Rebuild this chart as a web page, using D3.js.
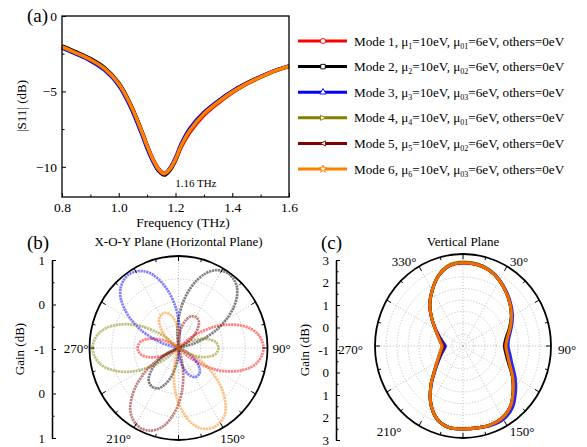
<!DOCTYPE html>
<html><head><meta charset="utf-8">
<script src="https://cdn.jsdelivr.net/npm/d3@7"></script>
<style>
body{margin:0;background:#fff}
svg{display:block}
text{font-family:"Liberation Serif","Times New Roman",serif;fill:#000}
</style>
</head><body>
<svg id="chart" width="587" height="447"></svg>
<script>
// ---------------- DATA ----------------
const modeNames = ["Mode 1","Mode 2","Mode 3","Mode 4","Mode 5","Mode 6"];
const muSub = ["1","2","3","4","5","6"];
const mu0Sub = ["01","02","03","01","02","03"];
const modeColors = ["#ff0000","#000000","#0000ff","#808000","#800000","#ff8000"];
const modeSymbols = ["circle","square","triangle","triRight","triLeft","star"];

// (a) |S11| vs frequency
const freq = [0.80,0.85,0.90,0.95,1.00,1.04,1.08,1.10,1.12,1.14,1.16,1.18,1.20,1.22,1.25,1.30,1.35,1.40,1.45,1.50,1.55,1.60];
const s11Mode1 = [-2.08,-2.48,-2.92,-3.52,-4.50,-5.80,-7.55,-8.55,-9.45,-10.10,-10.42,-10.20,-9.60,-8.72,-7.74,-6.60,-5.79,-5.10,-4.53,-4.07,-3.66,-3.35];
const s11Mode2 = [-1.98,-2.38,-2.82,-3.42,-4.42,-5.76,-7.58,-8.62,-9.55,-10.25,-10.55,-10.25,-9.58,-8.62,-7.58,-6.45,-5.66,-5.00,-4.46,-4.02,-3.62,-3.31];
const s11Mode3 = [-2.13,-2.53,-2.98,-3.60,-4.62,-6.00,-7.80,-8.80,-9.65,-10.26,-10.46,-10.08,-9.38,-8.45,-7.45,-6.38,-5.62,-4.97,-4.45,-4.01,-3.62,-3.32];
const s11Mode4 = [-2.06,-2.46,-2.90,-3.50,-4.50,-5.83,-7.62,-8.62,-9.50,-10.16,-10.46,-10.16,-9.52,-8.62,-7.62,-6.50,-5.72,-5.05,-4.50,-4.05,-3.65,-3.34];
const s11Mode5 = [-2.04,-2.44,-2.88,-3.48,-4.48,-5.81,-7.59,-8.60,-9.50,-10.18,-10.48,-10.18,-9.52,-8.61,-7.60,-6.48,-5.70,-5.03,-4.48,-4.03,-3.63,-3.32];
const s11Mode6 = [-2.05,-2.45,-2.89,-3.49,-4.49,-5.82,-7.60,-8.60,-9.49,-10.15,-10.45,-10.15,-9.50,-8.60,-7.60,-6.49,-5.71,-5.04,-4.49,-4.04,-3.64,-3.33];
const xTicksA = [0.8,1.0,1.2,1.4,1.6];
const yTicksA = [0,-5,-10];

// (b) horizontal plane gain (dB), angles 0..355 step 5 (values below -1 dB sit at the centre)
const anglesH = [0,5,10,15,20,25,30,35,40,45,50,55,60,65,70,75,80,85,90,95,100,105,110,115,120,125,130,135,140,145,150,155,160,165,170,175,180,185,190,195,200,205,210,215,220,225,230,235,240,245,250,255,260,265,270,275,280,285,290,295,300,305,310,315,320,325,330,335,340,345,350,355];
const gainHMode1 = [-1,-1,-1,-1,-1,-1,-1,-1,-1, -1,-0.69,-0.39,-0.08,0.20,0.45,0.66,0.80,0.88,0.91,0.88,0.80,0.66,0.45,0.20,-0.08,-0.39,-0.69,-1, -1,-1,-1,-1,-1,-1,-1,-1,-1,-1,-1,-1,-1,-1,-1,-1,-1,-1, -1,-0.93,-0.77,-0.59,-0.41,-0.26,-0.15,-0.10,-0.08,-0.10,-0.15,-0.26,-0.41,-0.59,-0.77,-0.93,-1, -1,-1,-1,-1,-1,-1,-1,-1,-1];
const gainHMode2 = [-0.37,-0.05,0.24,0.50,0.71,0.86,0.94,0.97,0.94,0.86,0.71,0.50,0.24,-0.05,-0.37,-0.68,-1, -1,-1,-1,-1,-1,-1,-1,-1,-1,-1,-1,-1,-1,-1,-1,-1,-1,-1, -1,-0.92,-0.74,-0.54,-0.34,-0.18,-0.05,0.01,0.03,0.01,-0.05,-0.18,-0.34,-0.54,-0.74,-0.92,-1, -1,-1,-1,-1,-1,-1,-1,-1,-1,-1,-1,-1,-1,-1,-1,-1,-1,-1, -1,-0.68];
const gainHMode3 = [-0.38,-0.69,-1, -1,-1,-1,-1,-1,-1,-1,-1,-1,-1,-1,-1,-1,-1,-1,-1,-1,-1, -1,-0.94,-0.81,-0.67,-0.53,-0.41,-0.32,-0.27,-0.26,-0.27,-0.32,-0.41,-0.53,-0.67,-0.81,-0.94,-1, -1,-1,-1,-1,-1,-1,-1,-1,-1,-1,-1,-1,-1,-1,-1,-1,-1,-1, -1,-0.69,-0.38,-0.06,0.23,0.48,0.70,0.84,0.92,0.95,0.92,0.84,0.70,0.48,0.23,-0.06];
const gainHMode4 = [-1,-1,-1,-1,-1,-1,-1,-1,-1,-1, -1,-0.93,-0.77,-0.59,-0.42,-0.28,-0.17,-0.12,-0.10,-0.12,-0.17,-0.28,-0.42,-0.59,-0.77,-0.93,-1, -1,-1,-1,-1,-1,-1,-1,-1,-1,-1,-1,-1,-1,-1,-1,-1,-1,-1, -1,-0.69,-0.38,-0.07,0.22,0.47,0.68,0.82,0.90,0.93,0.90,0.82,0.68,0.47,0.22,-0.07,-0.38,-0.69,-1, -1,-1,-1,-1,-1,-1,-1,-1];
const gainHMode5 = [-0.80,-0.65,-0.50,-0.38,-0.28,-0.24,-0.22,-0.24,-0.28,-0.38,-0.50,-0.65,-0.80,-0.94,-1, -1,-1,-1,-1,-1,-1,-1,-1,-1,-1,-1,-1,-1,-1,-1,-1,-1, -1,-0.69,-0.38,-0.07,0.22,0.47,0.69,0.83,0.91,0.94,0.91,0.83,0.69,0.47,0.22,-0.07,-0.38,-0.69,-1, -1,-1,-1,-1,-1,-1,-1,-1,-1,-1,-1,-1,-1,-1,-1,-1,-1,-1,-1, -1,-0.94];
const gainHMode6 = [-0.63,-0.79,-0.93,-1, -1,-1,-1,-1,-1,-1,-1,-1,-1,-1,-1,-1,-1,-1,-1,-1,-1,-1, -1,-0.70,-0.39,-0.09,0.20,0.44,0.65,0.80,0.87,0.90,0.87,0.80,0.65,0.44,0.20,-0.09,-0.39,-0.70,-1, -1,-1,-1,-1,-1,-1,-1,-1,-1,-1,-1,-1,-1,-1,-1,-1,-1,-1, -1,-0.93,-0.79,-0.63,-0.47,-0.34,-0.24,-0.19,-0.17,-0.19,-0.24,-0.34,-0.47];
const gainTickLabelsB = ["1","0","-1","0","1"];

// (c) vertical plane gain (dB), angles 0..350 step 10
const anglesV = [0,10,20,30,40,50,60,70,80,90,100,110,120,130,140,150,160,170,180,190,200,210,220,230,240,250,260,270,280,290,300,310,320,330,340,350];
const gainVMode1 = [2.62,2.60,2.50,2.30,2.05,1.80,1.55,1.26,1.01,0.91,1.01,1.22,1.60,1.98,2.38,2.60,2.65,2.62,2.60,2.60,2.40,1.92,1.28,0.70,0.35,0.15,0.02,-0.05,0.05,0.20,0.45,0.85,1.35,1.80,2.25,2.55];
const gainVMode2 = [2.62,2.60,2.50,2.30,2.05,1.80,1.53,1.24,0.98,0.88,0.98,1.20,1.58,1.98,2.38,2.60,2.65,2.62,2.60,2.60,2.40,1.92,1.28,0.70,0.33,0.10,-0.05,-0.15,-0.02,0.18,0.45,0.85,1.35,1.80,2.25,2.55];
const gainVMode3 = [2.62,2.62,2.52,2.32,2.08,1.84,1.60,1.34,1.12,1.05,1.17,1.38,1.74,2.12,2.50,2.68,2.68,2.62,2.60,2.60,2.40,1.92,1.26,0.66,0.28,0.05,-0.12,-0.20,-0.08,0.12,0.42,0.85,1.35,1.80,2.25,2.55];
const gainVMode4 = [2.65,2.63,2.52,2.30,2.05,1.80,1.55,1.28,1.05,0.95,1.05,1.25,1.60,1.98,2.38,2.60,2.65,2.62,2.60,2.60,2.40,1.92,1.28,0.70,0.35,0.15,0.02,-0.05,0.05,0.20,0.45,0.85,1.35,1.80,2.27,2.58];
const gainVMode5 = [2.62,2.60,2.50,2.30,2.05,1.80,1.55,1.28,1.05,0.95,1.05,1.25,1.60,1.98,2.38,2.60,2.65,2.62,2.60,2.60,2.40,1.92,1.28,0.68,0.32,0.10,-0.04,-0.12,0.00,0.18,0.45,0.85,1.35,1.80,2.25,2.55];
const gainVMode6 = [2.62,2.60,2.50,2.30,2.05,1.80,1.55,1.28,1.05,0.95,1.05,1.25,1.60,1.98,2.38,2.60,2.65,2.62,2.60,2.60,2.40,1.92,1.28,0.70,0.35,0.15,0.02,-0.05,0.05,0.20,0.45,0.85,1.35,1.80,2.25,2.55];
const gainTickLabelsC = ["3","2","1","0","-1","0","1","2","3"];

// ---------------- CHECKS ----------------
const s11All = [s11Mode1,s11Mode2,s11Mode3,s11Mode4,s11Mode5,s11Mode6];
const gainHAll = [gainHMode1,gainHMode2,gainHMode3,gainHMode4,gainHMode5,gainHMode6];
const gainVAll = [gainVMode1,gainVMode2,gainVMode3,gainVMode4,gainVMode5,gainVMode6];
s11All.forEach((a,i)=>{ if(a.length!==freq.length) throw new Error("s11 len "+i+" "+a.length); });
gainHAll.forEach((a,i)=>{ if(a.length!==anglesH.length) throw new Error("gainH len "+i+" "+a.length); });
gainVAll.forEach((a,i)=>{ if(a.length!==anglesV.length) throw new Error("gainV len "+i+" "+a.length); });

// ---------------- DRAW ----------------
const svg = d3.select("#chart");
const FS = 13;

function symbolPath(kind, s){
  if(kind==="circle") return d3.symbol(d3.symbolCircle, s*s*0.8)();
  if(kind==="square") return d3.symbol(d3.symbolSquare, s*s*0.8)();
  if(kind==="triangle") return d3.symbol(d3.symbolTriangle, s*s*0.7)();
  if(kind==="star") return d3.symbol(d3.symbolStar, s*s*0.7)();
  const h = s/2;
  if(kind==="triRight") return `M${-h},${-h}L${h},0L${-h},${h}Z`;
  if(kind==="triLeft") return `M${h},${-h}L${-h},0L${h},${h}Z`;
}

// ===== Panel (a) =====
const xA = d3.scaleLinear().domain([0.8,1.6]).range([62,289]);
const yA = d3.scaleLinear().domain([-12,0]).range([197,16]);
const gA = svg.append("g");

const lineA = d3.line().x((d,i)=>xA(freq[i])).y(d=>yA(d)).curve(d3.curveCatmullRom.alpha(0.5));
s11All.forEach((arr,i)=>{
  gA.append("path").attr("d", lineA(arr)).attr("fill","none")
    .attr("stroke", modeColors[i]).attr("stroke-width", 3.4).attr("stroke-linejoin","round");
});

gA.append("rect").attr("x",62).attr("y",16).attr("width",227).attr("height",181)
  .attr("fill","none").attr("stroke","#000").attr("stroke-width",1.3);

const axXA = gA.append("g").attr("transform","translate(0,197)")
  .call(d3.axisBottom(xA).tickValues(xTicksA).tickFormat(d3.format(".1f")).tickSizeInner(-4).tickSizeOuter(0).tickPadding(5));
axXA.append("g").call(d3.axisBottom(xA).tickValues([0.9,1.1,1.3,1.5]).tickFormat("").tickSizeInner(-2.5).tickSizeOuter(0));
const axYA = gA.append("g").attr("transform","translate(62,0)")
  .call(d3.axisLeft(yA).tickValues(yTicksA).tickFormat(d3.format("d")).tickSizeInner(-4).tickSizeOuter(0).tickPadding(5));
axYA.append("g").call(d3.axisLeft(yA).tickValues([-2.5,-7.5]).tickFormat("").tickSizeInner(-2.5).tickSizeOuter(0));
gA.selectAll(".domain").remove();
gA.selectAll(".tick text").attr("font-size",13.5).attr("font-family","Liberation Serif");
gA.selectAll(".tick line").attr("stroke","#000");

gA.append("text").attr("x",183).attr("y",227).attr("text-anchor","middle").attr("font-size",13.5).text("Frequency (THz)");
gA.append("text").attr("transform","translate(26,106) rotate(-90)").attr("text-anchor","middle").attr("font-size",13).text("|S11| (dB)");
gA.append("text").attr("x",xA(1.16)+11).attr("y",187).attr("font-size",11).text("1.16 THz");
svg.append("text").attr("x",27).attr("y",22).attr("font-size",19).text("(a)");

// legend
const gL = svg.append("g");
modeNames.forEach((m,i)=>{
  const y = 41 + i*25.6;
  gL.append("line").attr("x1",298).attr("x2",347).attr("y1",y).attr("y2",y)
    .attr("stroke",modeColors[i]).attr("stroke-width",3);
  gL.append("path").attr("d", symbolPath(modeSymbols[i],5)).attr("transform",`translate(323,${y})`)
    .attr("fill","#fff").attr("stroke",modeColors[i]).attr("stroke-width",0.9);
  const t = gL.append("text").attr("x",354).attr("y",y+4.5).attr("font-size",13.2);
  t.append("tspan").text(m+", \u03bc");
  t.append("tspan").attr("font-size",8).attr("dy",3).text(muSub[i]);
  t.append("tspan").attr("dy",-3).text("=10eV, \u03bc");
  t.append("tspan").attr("font-size",8).attr("dy",3).text(mu0Sub[i]);
  t.append("tspan").attr("dy",-3).text("=6eV, others=0eV");
});

// ===== Polar helper =====
function polarPanel(opts){
  const {cx, cy, rx, ry, domain, circles, curves, lineWidth, lineOpacity, dash} = opts;
  const rS = d3.scaleLinear().domain(domain).range([0, rx]);
  const g = svg.append("g").attr("transform",`translate(${cx},${cy}) scale(1,${ry/rx})`);
  circles.forEach(v=>{
    g.append("circle").attr("r", rS(v)).attr("fill","none").attr("stroke","#b8b8b8")
      .attr("stroke-width",0.8).attr("stroke-dasharray","1.2,1.8").attr("vector-effect","non-scaling-stroke");
  });
  d3.range(0,360,30).forEach(a=>{
    const t = a*Math.PI/180;
    g.append("line").attr("x1",0).attr("y1",0).attr("x2",Math.sin(t)*rx).attr("y2",-Math.cos(t)*rx)
      .attr("stroke","#b8b8b8").attr("stroke-width",0.8).attr("stroke-dasharray","1.2,1.8").attr("vector-effect","non-scaling-stroke");
  });
  curves.forEach(c=>{
    const line = d3.lineRadial().angle((d,i)=>c.angles[i]*Math.PI/180).radius(d=>rS(Math.max(d,domain[0])))
      .curve(d3.curveCardinalClosed.tension(0.1));
    const p = g.append("path").attr("d", line(c.values)).attr("fill","none").attr("stroke",c.color)
      .attr("stroke-width",lineWidth).attr("stroke-opacity",lineOpacity).attr("stroke-linejoin","round")
      .attr("vector-effect","non-scaling-stroke");
    if(dash) p.attr("stroke-dasharray",dash);
  });
  g.append("circle").attr("r", rx).attr("fill","none").attr("stroke","#000").attr("stroke-width",1.8).attr("vector-effect","non-scaling-stroke");
  d3.range(0,360,15).forEach(a=>{
    const t = a*Math.PI/180, len = (a%30===0)?5:3;
    g.append("line").attr("x1",Math.sin(t)*rx).attr("y1",-Math.cos(t)*rx)
      .attr("x2",Math.sin(t)*(rx-len)).attr("y2",-Math.cos(t)*(rx-len))
      .attr("stroke","#000").attr("stroke-width",1).attr("vector-effect","non-scaling-stroke");
  });
  return g;
}

// ===== Panel (b) =====
const cxB = 178.5, cyB = 348, rxB = 89, ryB = 92;
polarPanel({cx:cxB, cy:cyB, rx:rxB, ry:ryB, domain:[-1,1], circles:[-0.5,0,0.5],
  curves: gainHAll.map((v,i)=>({angles:anglesH, values:v, color:modeColors[i]})),
  lineWidth:2.7, lineOpacity:0.5, dash:"2.2,0.7"});
const yB = d3.scaleLinear().domain([-2,2]).range([438,260]);
const axB = svg.append("g").attr("transform","translate(52,0)");
axB.call(d3.axisLeft(yB).tickValues([2,1,0,-1,-2]).tickFormat((d,i)=>gainTickLabelsB[i]).tickSizeInner(-4).tickSizeOuter(0).tickPadding(7));
axB.append("g").call(d3.axisLeft(yB).tickValues([1.5,0.5,-0.5,-1.5]).tickFormat("").tickSizeInner(-2.5).tickSizeOuter(0));
axB.selectAll(".domain").attr("stroke","#000").attr("stroke-width",1.3);
axB.selectAll(".tick text").attr("font-size",FS).attr("font-family","Liberation Serif");
svg.append("text").attr("transform","translate(24,349) rotate(-90)").attr("text-anchor","middle").attr("font-size",13).text("Gain (dB)");
svg.append("text").attr("x",cxB).attr("y",246).attr("text-anchor","middle").attr("font-size",13).text("X-O-Y Plane (Horizontal Plane)");
svg.append("text").attr("x",27).attr("y",249).attr("font-size",19).text("(b)");
[["270°",cxB-rxB-1,cyB+4.5,"end"],["90°",cxB+rxB+5,cyB+4.5,"start"],
 ["210°",cxB-60,443,"middle"],["150°",cxB+54,443,"middle"]].forEach(l=>{
  svg.append("text").attr("x",l[1]).attr("y",l[2]).attr("text-anchor",l[3]).attr("font-size",FS).text(l[0]);
});

// ===== Panel (c) =====
const cxC = 463, cyC = 346, rxC = 88, ryC = 92;
polarPanel({cx:cxC, cy:cyC, rx:rxC, ry:ryC, domain:[-1,3], circles:[-0.5,0,0.5,1,1.5,2,2.5],
  curves: gainVAll.map((v,i)=>({angles:anglesV, values:v, color:modeColors[i]})),
  lineWidth:3, lineOpacity:0.85, dash:null});
const yC = d3.scaleLinear().domain([-4,4]).range([440,260]);
const axC = svg.append("g").attr("transform","translate(336,0)");
axC.call(d3.axisLeft(yC).tickValues([4,3,2,1,0,-1,-2,-3,-4]).tickFormat((d,i)=>gainTickLabelsC[i]).tickSizeInner(-4).tickSizeOuter(0).tickPadding(7));
axC.append("g").call(d3.axisLeft(yC).tickValues([3.5,2.5,1.5,0.5,-0.5,-1.5,-2.5,-3.5]).tickFormat("").tickSizeInner(-2.5).tickSizeOuter(0));
axC.selectAll(".domain").attr("stroke","#000").attr("stroke-width",1.3);
axC.selectAll(".tick text").attr("font-size",FS).attr("font-family","Liberation Serif");
svg.append("text").attr("transform","translate(309,350) rotate(-90)").attr("text-anchor","middle").attr("font-size",13).text("Gain (dB)");
svg.append("text").attr("x",cxC).attr("y",246).attr("text-anchor","middle").attr("font-size",13).text("Vertical Plane");
svg.append("text").attr("x",321).attr("y",249).attr("font-size",19).text("(c)");
[["330°",cxC-59,266,"middle"],["30°",cxC+56,266,"middle"],
 ["270°",cxC-100,cyC+8,"end"],["90°",cxC+95,cyC+8,"start"],
 ["210°",cxC-74,436,"middle"],["150°",cxC+59,436,"middle"]].forEach(l=>{
  svg.append("text").attr("x",l[1]).attr("y",l[2]).attr("text-anchor",l[3]).attr("font-size",FS).text(l[0]);
});
</script>
</body></html>
